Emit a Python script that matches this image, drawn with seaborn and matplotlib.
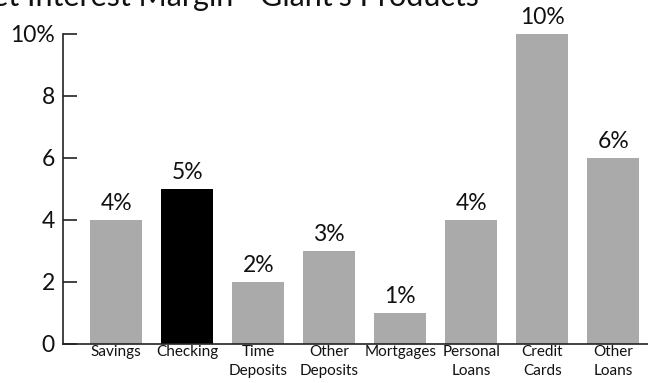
import matplotlib
matplotlib.use("Agg")
import matplotlib.pyplot as plt
import seaborn as sns
import pandas as pd

# Chart data
categories = ["Savings", "Checking", "Time\nDeposits", "Other\nDeposits", "Mortgages",
              "Personal\nLoans", "Credit\nCards", "Other\nLoans"]
margins = [4, 5, 2, 3, 1, 4, 10, 6]
bar_colors = ["#aaaaaa", "#000000", "#aaaaaa", "#aaaaaa", "#aaaaaa", "#aaaaaa", "#aaaaaa", "#aaaaaa"]
y_ticks = [0, 2, 4, 6, 8, 10]
y_tick_labels = ["0", "2", "4", "6", "8", "10%"]
title = "Net Interest Margin - Giant's Products"

sns.set_theme(style="white")
plt.rcParams["font.family"] = ["Lato", "DejaVu Sans"]

W, H = 648, 383
fig = plt.figure(figsize=(W / 100, H / 100), dpi=100)
ax = fig.add_axes([63 / W, 39 / H, 585 / W, 310 / H])

df = pd.DataFrame({"category": categories, "margin": margins})
sns.barplot(data=df, x="category", y="margin", hue="category", palette=bar_colors,
            legend=False, width=0.735, saturation=1, linewidth=0, edgecolor="none", ax=ax)

for i, v in enumerate(margins):
    ax.text(i, v + 0.2, f"{v}%", ha="center", va="bottom", fontsize=16.5, color="#111111")

ax.set_xlim(-0.75, 7.49)
ax.set_ylim(0, 10)
ax.set_yticks(y_ticks)
ax.set_yticklabels(y_tick_labels, fontsize=16.5, color="#111111")
ax.set_xticks(range(len(categories)))
ax.set_xticklabels(categories, fontsize=11, linespacing=1.45, color="#111111")
ax.set_xlabel("")
ax.set_ylabel("")

ax.tick_params(axis="y", direction="in", length=10, width=1.2, color="#222222", pad=6, left=True)
ax.tick_params(axis="x", length=0, pad=1)

for side in ["top", "right"]:
    ax.spines[side].set_visible(False)
for side in ["left", "bottom"]:
    ax.spines[side].set_color("#222222")
    ax.spines[side].set_linewidth(1.2)

fig.text(-31 / W, 1 - 6 / H, title, ha="left", va="baseline", fontsize=22, color="#111111")

fig.savefig("out.png", dpi=100)
